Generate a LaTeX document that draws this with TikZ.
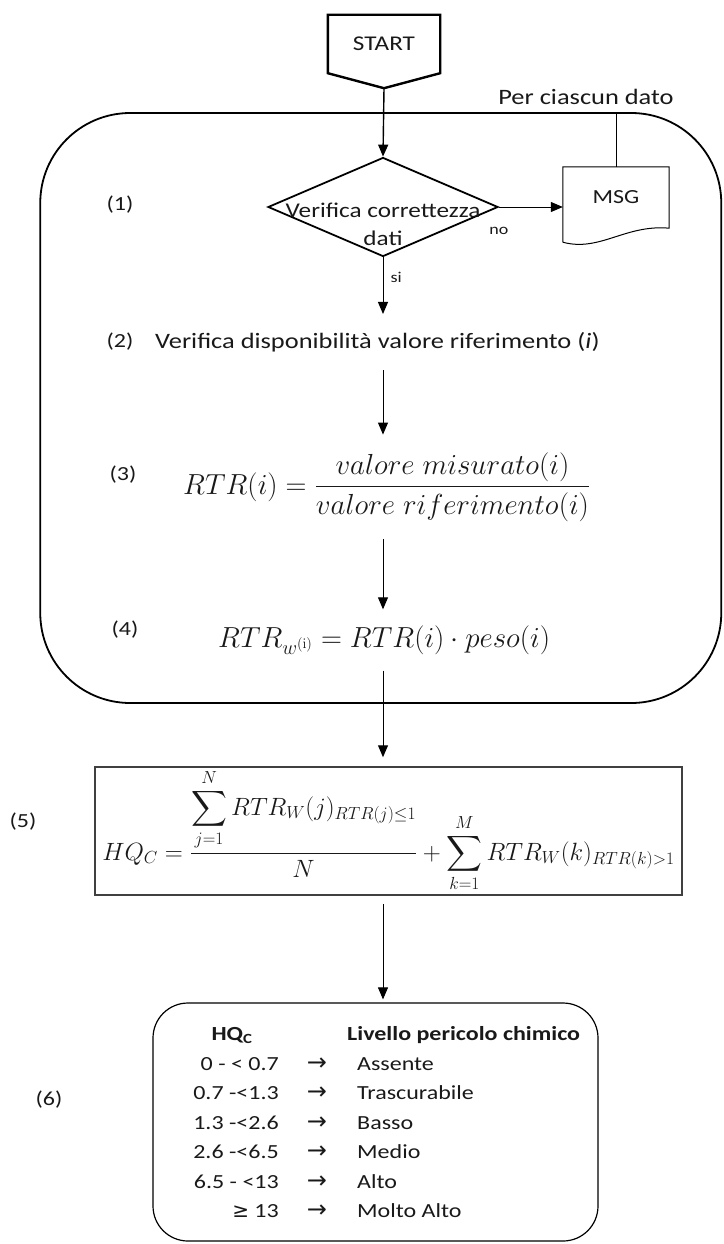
\RequirePackage{fix-cm}
\documentclass[tikz,border=0pt]{standalone}
\usepackage{amsmath}
\usepackage[no-math]{fontspec}
\setmainfont{Carlito}[FakeStretch=1.2]
\newfontfamily\symfont{DejaVu Sans}
\usepackage{tikz}
\usetikzlibrary{positioning,calc,shapes.geometric,arrows.meta}

\begin{document}
\begin{tikzpicture}[
    x=1pt, y=-1pt,
    every node/.style = {font=\fontsize{22}{28}\selectfont, inner sep=0pt, text=black!90},
    flow/.style       = {draw=black, line width=1pt, -{Triangle[length=12pt,width=10pt]}},
    plain/.style      = {draw=black, line width=1pt},
    startbox/.style   = {minimum width=112pt, minimum height=58pt, font=\fontsize{21}{24}\selectfont},
    decision/.style   = {diamond, draw=black, line width=1.8pt, minimum width=230pt, minimum height=99pt},
    chklbl/.style     = {align=center, font=\fontsize{21}{28}\selectfont},
    docbox/.style     = {minimum width=106pt, minimum height=61pt, font=\fontsize{20}{24}\selectfont},
    loopframe/.style  = {draw=black, line width=1.8pt, rounded corners=90pt, minimum width=681pt, minimum height=590pt},
    steplbl/.style    = {font=\fontsize{20}{24}\selectfont},
    edgelbl/.style    = {font=\fontsize{15}{18}\selectfont},
    formula/.style    = {font=\fontsize{29}{34}\selectfont},
    sumbox/.style     = {draw=black!75, line width=1.5pt, minimum width=587pt, minimum height=128pt, font=\fontsize{25}{30}\selectfont},
    tabframe/.style   = {draw=black, line width=1.2pt, rounded corners=35pt, minimum width=445pt, minimum height=238pt},
    tabhead/.style    = {font=\fontsize{20}{24}\selectfont\bfseries},
    tabrow/.style     = {font=\fontsize{20}{24}\selectfont, text height=15pt, text depth=5pt},
    tabarrow/.style   = {font=\fontsize{24}{24}\symfont, text height=15pt, text depth=5pt}
  ]
  \useasboundingbox (0,0) rectangle (723,1244);

  % start
  \node[startbox] (start) at (384,44) {START};
  \coordinate (sttip) at ($(start.south)+(0,15)$);
  \draw[line width=2.4pt] (start.south west) -- (start.north west) -- (start.north east)
    -- (start.south east) -- (sttip) -- cycle;

  % loop over the data
  \node[loopframe] (loop) at (380.75,408) {};
  \node (perdato) at (586,97) {Per ciascun dato};

  \node[decision] (chk) at (383,207) {};
  \node[chklbl] (chktxt) at ($(chk.center)+(0,17)$) {Verifica correttezza\\dati};
  \node[docbox] (msg) at (616,197.5) {MSG};
  \draw[line width=1pt] ($(msg.south west)+(0,14)$) -- (msg.north west) -- (msg.north east)
    -- (msg.south east) .. controls ($(msg.south east)+(-44,-4)$) and ($(msg.south west)+(37,24)$)
    .. ($(msg.south west)+(0,14)$);
  \draw[plain] (msg.north) -- (msg.north |- loop.north);

  \node[anchor=west, inner ysep=18pt] (step2) at (155,342)
    {Verifica disponibilità valore riferimento (\textit{i})};
  \node[formula, anchor=west, inner ysep=18pt] (rtr) at (183,487)
    {$RTR(i)=\dfrac{valore\;misurato(i)}{valore\;riferimento(i)}$};
  \node[formula, anchor=west, inner ysep=16pt] (rtrw) at (218,640)
    {$RTR_{w^{(\mathrm{i})}}=RTR(i)\cdot peso(i)$};

  % hazard quotient
  \node[sumbox] (hqc) at (388.5,831)
    {$\displaystyle HQ_C=\frac{\displaystyle\sum_{j=1}^{N}RTR_W(j)_{RTR(j)\leq 1}}{N}
      +\sum_{k=1}^{M}RTR_W(k)_{RTR(k)>1}$};

  % classes
  \node[tabframe] (livelli) at (375.5,1122) {};
  \node[tabhead] (hdrhq) at (232,1035) {HQ\textsubscript{C}};
  \node[tabhead, anchor=west] (hdrlvl) at (347,1035) {Livello pericolo chimico};
  \foreach \lo/\lvl [count=\r] in {0 - {<} 0.7/Assente, 0.7 -{<}1.3/Trascurabile,
      1.3 -{<}2.6/Basso, 2.6 -{<}6.5/Medio, 6.5 - {<}13/Alto, {{\symfont ≥} 13}/Molto Alto}{
    \node[tabrow, anchor=east] (lo\r) at (279,1065+29.5*\r-29.5) {\lo};
    \node[tabarrow] (ar\r) at (317,1065+29.5*\r-29.5) {→};
    \node[tabrow, anchor=west] (lv\r) at (357,1065+29.5*\r-29.5) {\lvl};
  }

  % step numbers
  \node[steplbl] (lab1) at (120,205) {(1)};
  \node[steplbl] (lab2) at (120,342) {(2)};
  \node[steplbl] (lab3) at (123,475) {(3)};
  \node[steplbl] (lab4) at (125,630) {(4)};
  \node[steplbl] (lab5) at (23,822) {(5)};
  \node[steplbl] (lab6) at (49,1100) {(6)};

  % connectors
  \draw[flow, line width=1.4pt] (sttip) -- (chk.north);
  \draw[flow] (chk.east) -- (chk.east -| msg.west)
    node[edgelbl, pos=0, below=20pt] (no) {no};
  \draw[flow] (chk.south) -- (chk.south |- step2.north)
    node[edgelbl, pos=0.36, right=7pt] (si) {si};
  \draw[flow] (chk.south |- step2.south) -- (chk.south |- rtr.north);
  \draw[flow] (chk.south |- rtr.south) -- (chk.south |- rtrw.north);
  \draw[flow, shorten >=9pt] (chk.south |- rtrw.south) -- (chk.south |- hqc.north);
  \draw[flow, shorten <=8pt, shorten >=3pt] (chk.south |- hqc.south) -- (chk.south |- livelli.north);
\end{tikzpicture}
\end{document}
